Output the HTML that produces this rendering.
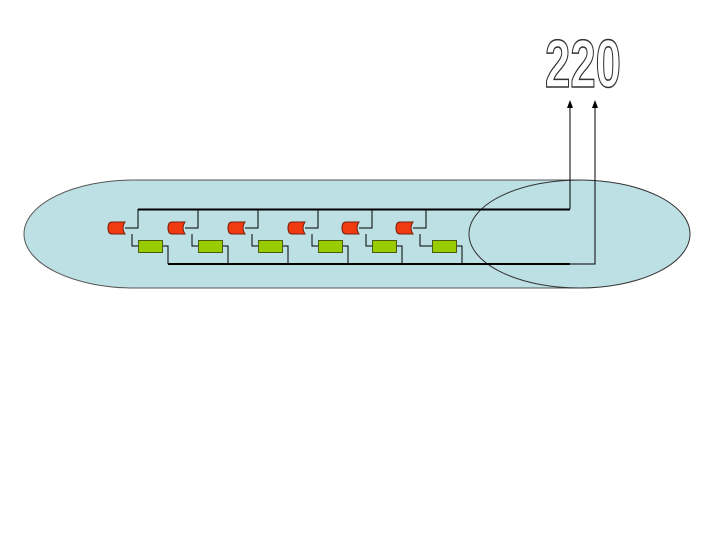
<!DOCTYPE html>
<html><head><style>body{margin:0;background:#fff}svg{display:block}</style></head><body>
<svg width="720" height="540" viewBox="0 0 720 540" xmlns="http://www.w3.org/2000/svg">
<path d="M134,180 L580,180 L580,288 L134,288 A110,54 0 0 1 134,180 Z" fill="#bde0e4" stroke="#555" stroke-width="1"/>
<ellipse cx="579.5" cy="234" rx="110.5" ry="54" fill="#bde0e4" stroke="#333" stroke-width="1"/>
<line x1="138" y1="209.5" x2="570" y2="209.5" stroke="#000" stroke-width="2"/>
<line x1="168" y1="264" x2="570" y2="264" stroke="#000" stroke-width="2"/>
<path d="M570,209 V104 M570,264 H595 V104" stroke="#000" stroke-width="1" fill="none"/>
<path d="M567,108 L570,100 L573,108 Z M592,108 L595,100 L598,108 Z" fill="#000"/>
<g stroke="#000" stroke-width="1" fill="none">
<path d="M125,228 H138 V209 M132,234 V246 H138 M162,246 H168 V264"/>
<path d="M185,228 H198 V209 M192,234 V246 H198 M222,246 H228 V264"/>
<path d="M245,228 H258 V209 M252,234 V246 H258 M282,246 H288 V264"/>
<path d="M305,228 H318 V209 M312,234 V246 H318 M342,246 H348 V264"/>
<path d="M359,228 H372 V209 M366,234 V246 H372 M396,246 H402 V264"/>
<path d="M413,228 H426 V209 M420,234 V246 H432 M456,246 H462 V264"/>
</g>
<g fill="#f03a10" stroke="#7a2010" stroke-width="1">
<path d="M112,222 H125 Q121,228 125,234 H112 Q108,234 108,228 Q108,222 112,222 Z"/>
<path d="M172,222 H185 Q181,228 185,234 H172 Q168,234 168,228 Q168,222 172,222 Z"/>
<path d="M232,222 H245 Q241,228 245,234 H232 Q228,234 228,228 Q228,222 232,222 Z"/>
<path d="M292,222 H305 Q301,228 305,234 H292 Q288,234 288,228 Q288,222 292,222 Z"/>
<path d="M346,222 H359 Q355,228 359,234 H346 Q342,234 342,228 Q342,222 346,222 Z"/>
<path d="M400,222 H413 Q409,228 413,234 H400 Q396,234 396,228 Q396,222 400,222 Z"/>
</g>
<g fill="#99cc00" stroke="#4a5a10" stroke-width="1">
<rect x="138.5" y="240.5" width="24" height="12"/>
<rect x="198.5" y="240.5" width="24" height="12"/>
<rect x="258.5" y="240.5" width="24" height="12"/>
<rect x="318.5" y="240.5" width="24" height="12"/>
<rect x="372.5" y="240.5" width="24" height="12"/>
<rect x="432.5" y="240.5" width="24" height="12"/>
</g>
<text x="0" y="0" transform="translate(545,87) scale(0.67,1)" font-family="Liberation Sans, sans-serif" font-weight="bold" font-size="68" fill="#fff" stroke="#333" stroke-width="1.5">220</text>
</svg>
</body></html>
